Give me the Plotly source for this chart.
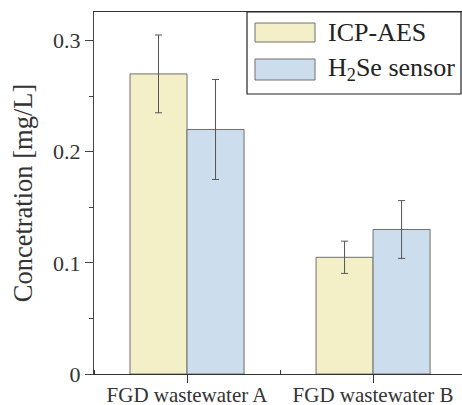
import plotly.graph_objects as go

categories = ["FGD wastewater A", "FGD wastewater B"]
series_names = ["ICP-AES", "H<sub>2</sub>Se sensor"]
icp_values = [0.270, 0.105]
icp_errors = [0.035, 0.0145]
sensor_values = [0.220, 0.130]
sensor_errors = [0.045, 0.026]
y_ticks = [0, 0.1, 0.2, 0.3]
y_ticklabels = ["0", "0.1", "0.2", "0.3"]

colors = ["#F3EFC6", "#CCDDEE"]
FONT = "Liberation Serif"
x_pos = list(range(len(categories)))

fig = go.Figure()
for name, vals, errs, col in [(series_names[0], icp_values, icp_errors, colors[0]),
                              (series_names[1], sensor_values, sensor_errors, colors[1])]:
    fig.add_trace(go.Bar(
        x=x_pos, y=vals, name=name,
        marker=dict(color=col, line=dict(color="#707070", width=1)),
        error_y=dict(type="data", array=errs, visible=True, color="#555555", thickness=1, width=3.5),
        showlegend=False,
    ))

# custom legend (box + swatches + labels) in paper coordinates
W, H = 368.0, 362.0
def px(x):
    return (x - 94) / W
def py(y):
    return (374 - y) / H

shapes = [
    dict(type="rect", xref="paper", yref="paper", x0=px(247), x1=px(461), y0=py(94), y1=py(12),
         line=dict(color="#222222", width=1.2), fillcolor="white", layer="above"),
]
sw = [(23, 42), (59, 80)]
for (y0, y1), col in zip(sw, colors):
    shapes.append(dict(type="rect", xref="paper", yref="paper", x0=px(255), x1=px(315),
                       y0=py(y1), y1=py(y0), line=dict(color="#707070", width=1),
                       fillcolor=col, layer="above"))
annotations = []
for (y0, y1), name in zip(sw, series_names):
    annotations.append(dict(xref="paper", yref="paper", x=px(326), y=py((y0 + y1) / 2),
                            text=name, showarrow=False, xanchor="left", yanchor="middle",
                            font=dict(family=FONT, size=26, color="#222222")))

fig.update_layout(
    width=462, height=405,
    margin=dict(l=94, r=0, t=12, b=31, autoexpand=False),
    paper_bgcolor="white", plot_bgcolor="white",
    barmode="group", bargap=0.387, bargroupgap=0,
    shapes=shapes, annotations=annotations,
    font=dict(family=FONT, color="#333333"),
)
fig.update_xaxes(
    range=[-0.5, 1.478], tickvals=x_pos, ticktext=categories,
    showgrid=False, zeroline=False, automargin=False,
    showline=True, linecolor="#333333", linewidth=1, mirror=True,
    ticks="outside", ticklen=8, tickcolor="#333333",
    ticklabelstandoff=-6,
    tickfont=dict(family=FONT, size=21, color="#333333"),
    minor=dict(ticks="inside", ticklen=4, tick0=0.5, dtick=1, tickcolor="#333333"),
)
fig.update_yaxes(
    range=[0, 0.3257], tickvals=y_ticks, ticktext=y_ticklabels,
    showgrid=False, zeroline=False, automargin=False,
    showline=True, linecolor="#444444", linewidth=1,
    ticks="outside", ticklen=8, tickcolor="#444444",
    tickfont=dict(family=FONT, size=22, color="#333333"),
    minor=dict(ticks="outside", ticklen=4, dtick=0.05, tick0=0, tickcolor="#444444"),
    title=dict(text="Concetration [mg/L]", font=dict(family=FONT, size=26.5, color="#333333"), standoff=12),
)

fig.write_html("out.html", config={"displayModeBar": False},
               post_script="document.body.style.margin='0';document.body.style.overflow='hidden';")
